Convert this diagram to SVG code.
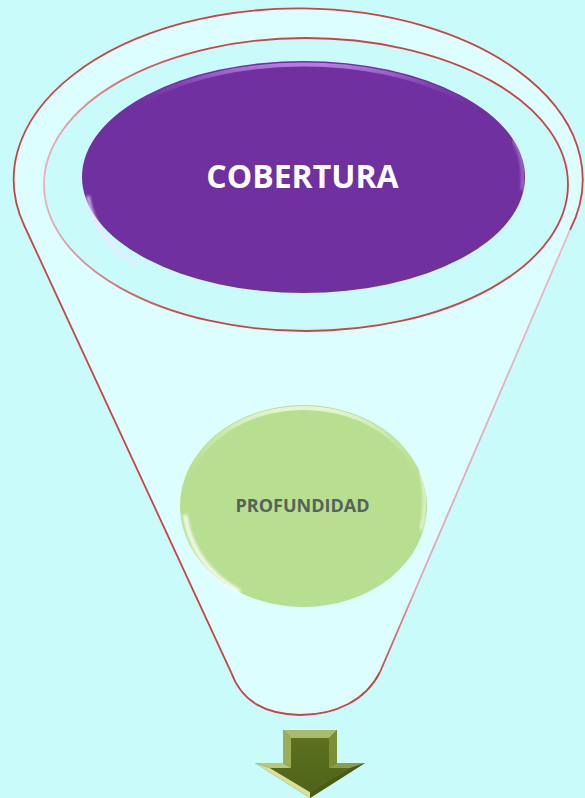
<svg xmlns="http://www.w3.org/2000/svg" width="585" height="798" viewBox="0 0 585 798">
  <style>
    .red { fill: none; stroke: #c94444; stroke-width: 1.8; }
    .label { font-family: "Open Sans", "Liberation Sans", sans-serif; font-weight: bold; text-anchor: middle; }
  </style>
  <defs>
    <linearGradient id="rightLine" x1="0" y1="0" x2="0" y2="1">
      <stop offset="0" stop-color="#eab8c4"/>
      <stop offset="0.8" stop-color="#e4a4b4"/>
      <stop offset="1" stop-color="#c94444"/>
    </linearGradient>
    <linearGradient id="innerRim" x1="0" y1="0" x2="1" y2="0">
      <stop offset="0" stop-color="#e9b0ba"/>
      <stop offset="0.18" stop-color="#d06060"/>
      <stop offset="0.3" stop-color="#c94444"/>
      <stop offset="1" stop-color="#c94444"/>
    </linearGradient>
    <linearGradient id="purpleTop" x1="0" y1="0" x2="0" y2="1">
      <stop offset="0" stop-color="#c690f2" stop-opacity="0.8"/>
      <stop offset="0.08" stop-color="#b070e0" stop-opacity="0.35"/>
      <stop offset="0.2" stop-color="#7030a0" stop-opacity="0"/>
    </linearGradient>
    <linearGradient id="greenTop" x1="0" y1="0" x2="0" y2="1">
      <stop offset="0" stop-color="#eaf8d8" stop-opacity="0.9"/>
      <stop offset="0.2" stop-color="#d8f0c0" stop-opacity="0.3"/>
      <stop offset="0.4" stop-color="#b8df90" stop-opacity="0"/>
    </linearGradient>
    <linearGradient id="arrowCore" x1="0" y1="0" x2="0" y2="1">
      <stop offset="0" stop-color="#5c7020"/>
      <stop offset="1" stop-color="#4f6418"/>
    </linearGradient>
    <filter id="soft" x="-10%" y="-10%" width="120%" height="120%">
      <feGaussianBlur stdDeviation="1.6"/>
    </filter>
  </defs>

  <rect width="585" height="798" fill="#c9fbfb"/>

  <g id="funnel">
    <path d="M 24,225 A 284.5 171 0 1 1 570,230 L 380,672 C 368,700 336,715 300,715 C 265,714 242,702 231,672 Z" fill="#dcfefe"/>
    <path class="red" d="M 570,230 A 284.5 171 0 1 0 24,225 L 231,672 C 242,702 265,714 300,715 C 336,715 366,700 380,672"/>
    <path d="M 570,230 L 380,672" fill="none" stroke="url(#rightLine)" stroke-width="1.8"/>
  </g>

  <g id="rim">
    <ellipse cx="306" cy="184.5" rx="262" ry="146.5" fill="#c9fbfb" stroke="url(#innerRim)" stroke-width="1.8"/>
  </g>

  <g id="cobertura">
    <ellipse cx="303.5" cy="177" rx="221.5" ry="116" fill="#7030a0"/>
    <ellipse cx="303.5" cy="178.5" rx="219" ry="114" fill="none" stroke="url(#purpleTop)" stroke-width="4"/>
    <path d="M 88,196 C 92,225 110,248 136,265" fill="none" stroke="#f2e4ff" stroke-width="3" stroke-opacity="0.85" filter="url(#soft)"/>
    <path d="M 513,140 C 522,155 524,170 522,190" fill="none" stroke="#e8d4ff" stroke-width="2" stroke-opacity="0.6" filter="url(#soft)"/>
    <text class="label" x="302.5" y="188" font-size="32" fill="#ffffff">COBERTURA</text>
  </g>

  <g id="profundidad">
    <ellipse cx="303.5" cy="506" rx="123.5" ry="101" fill="#b8df90"/>
    <ellipse cx="303.5" cy="507" rx="121" ry="99" fill="none" stroke="url(#greenTop)" stroke-width="4"/>
    <path d="M 185,515 C 190,550 210,575 240,592" fill="none" stroke="#ffffff" stroke-width="4" stroke-opacity="0.9" filter="url(#soft)"/>
    <path d="M 420,470 C 426,490 426,510 421,530" fill="none" stroke="#ffffff" stroke-width="2.5" stroke-opacity="0.8" filter="url(#soft)"/>
    <text class="label" x="302.5" y="512" font-size="18" fill="#576258">PROFUNDIDAD</text>
  </g>

  <g id="connectors">
    <g id="arrow">
      <polygon points="283,730 337,730 337,763 365,763 310,798 255,763 283,763" fill="#6b7e2c"/>
      <polygon points="283,730 337,730 329,738 291,738" fill="#aabb6a"/>
      <polygon points="337,730 337,763 329,768 329,738" fill="#7d8f36"/>
      <polygon points="337,763 365,763 350,768 329,768" fill="#8c9c4a"/>
      <polygon points="365,763 310,798 310,792 350,768" fill="#4a5c14"/>
      <polygon points="310,798 255,763 270,768 310,792" fill="#d6e09c"/>
      <polygon points="255,763 283,763 291,768 270,768" fill="#b8c878"/>
      <polygon points="283,763 283,730 291,738 291,768" fill="#9cae5a"/>
      <polygon points="291,738 329,738 329,768 350,768 310,792 270,768 291,768" fill="url(#arrowCore)"/>
    </g>
  </g>
</svg>
